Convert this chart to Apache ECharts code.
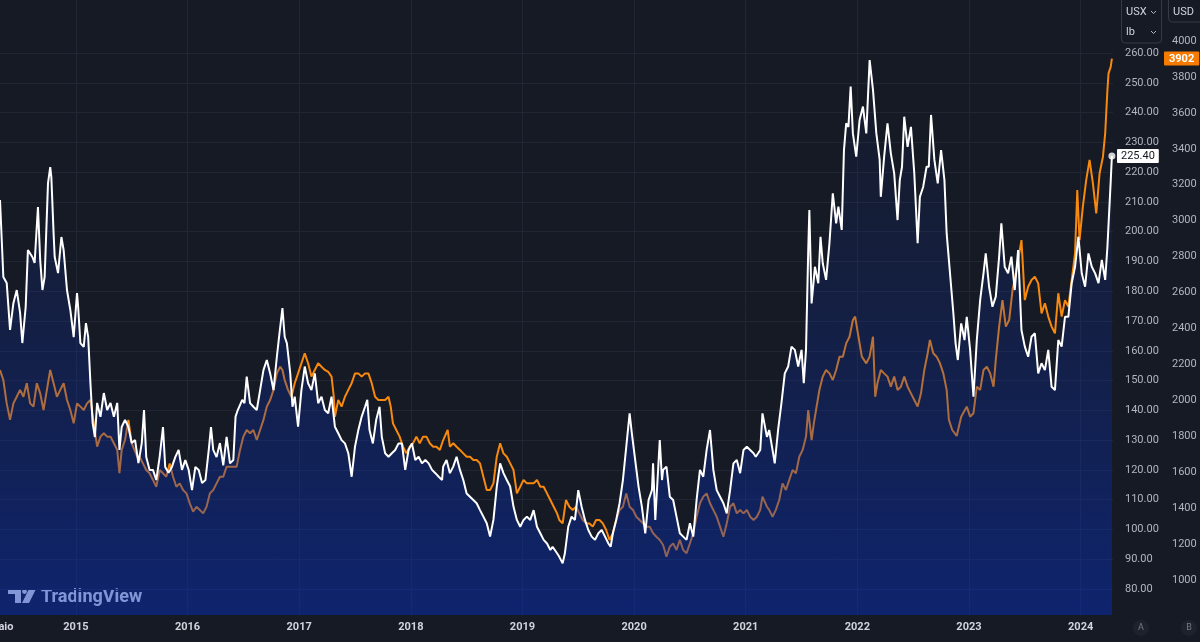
<!DOCTYPE html>
<html>
<head>
<meta charset="utf-8">
<script src="https://cdn.jsdelivr.net/npm/echarts@6/dist/echarts.min.js"></script>
<style>
    html, body { margin: 0; padding: 0; background: #161a25; }
    #chart { width: 1200px; height: 642px; }
</style>
</head>
<body>
<div id="chart"></div>
<script>
// decimal years / price in US cents per lb (white, left price scale)
const whiteDates = [
    2014.32, 2014.35, 2014.38, 2014.41, 2014.44, 2014.47, 2014.50, 2014.52, 2014.55, 2014.57, 2014.61, 2014.63, 2014.66, 2014.68, 2014.70, 2014.72,
    2014.75, 2014.77, 2014.78, 2014.80, 2014.81, 2014.84, 2014.87, 2014.89, 2014.92, 2014.95, 2014.98, 2015.01, 2015.02, 2015.04, 2015.07, 2015.09,
    2015.11, 2015.13, 2015.15, 2015.17, 2015.19, 2015.22, 2015.25, 2015.28, 2015.31, 2015.34, 2015.37, 2015.39, 2015.41, 2015.44, 2015.47, 2015.50,
    2015.53, 2015.56, 2015.59, 2015.61, 2015.63, 2015.66, 2015.69, 2015.72, 2015.75, 2015.78, 2015.80, 2015.83, 2015.86, 2015.89, 2015.92, 2015.95,
    2015.98, 2016.01, 2016.04, 2016.07, 2016.10, 2016.13, 2016.16, 2016.19, 2016.21, 2016.23, 2016.26, 2016.29, 2016.32, 2016.35, 2016.38, 2016.41,
    2016.43, 2016.45, 2016.49, 2016.51, 2016.53, 2016.56, 2016.59, 2016.62, 2016.65, 2016.68, 2016.71, 2016.74, 2016.77, 2016.80, 2016.82, 2016.85,
    2016.87, 2016.89, 2016.92, 2016.94, 2016.96, 2016.99, 2017.02, 2017.05, 2017.08, 2017.11, 2017.14, 2017.17, 2017.20, 2017.23, 2017.26, 2017.29,
    2017.32, 2017.35, 2017.38, 2017.41, 2017.44, 2017.47, 2017.50, 2017.53, 2017.56, 2017.59, 2017.61, 2017.63, 2017.66, 2017.69, 2017.72, 2017.74,
    2017.77, 2017.80, 2017.83, 2017.86, 2017.89, 2017.92, 2017.95, 2017.98, 2018.01, 2018.04, 2018.07, 2018.10, 2018.13, 2018.16, 2018.19, 2018.22,
    2018.25, 2018.28, 2018.29, 2018.32, 2018.35, 2018.38, 2018.41, 2018.44, 2018.47, 2018.50, 2018.53, 2018.56, 2018.59, 2018.62, 2018.65, 2018.68,
    2018.71, 2018.74, 2018.77, 2018.80, 2018.83, 2018.86, 2018.89, 2018.92, 2018.95, 2018.98, 2019.01, 2019.04, 2019.07, 2019.10, 2019.13, 2019.16,
    2019.19, 2019.22, 2019.25, 2019.27, 2019.31, 2019.33, 2019.36, 2019.38, 2019.41, 2019.44, 2019.47, 2019.50, 2019.53, 2019.56, 2019.59, 2019.62,
    2019.65, 2019.68, 2019.71, 2019.74, 2019.77, 2019.79, 2019.81, 2019.84, 2019.87, 2019.90, 2019.93, 2019.96, 2019.98, 2020.01, 2020.04, 2020.07,
    2020.10, 2020.13, 2020.16, 2020.17, 2020.19, 2020.21, 2020.23, 2020.25, 2020.26, 2020.29, 2020.32, 2020.35, 2020.38, 2020.41, 2020.44, 2020.47,
    2020.50, 2020.53, 2020.56, 2020.59, 2020.62, 2020.65, 2020.68, 2020.71, 2020.74, 2020.77, 2020.80, 2020.83, 2020.86, 2020.89, 2020.92, 2020.95,
    2020.98, 2021.01, 2021.04, 2021.07, 2021.09, 2021.13, 2021.15, 2021.19, 2021.21, 2021.24, 2021.26, 2021.29, 2021.32, 2021.35, 2021.38, 2021.41,
    2021.44, 2021.47, 2021.50, 2021.52, 2021.54, 2021.56, 2021.57, 2021.59, 2021.62, 2021.65, 2021.67, 2021.69, 2021.72, 2021.75, 2021.78, 2021.81,
    2021.83, 2021.86, 2021.88, 2021.90, 2021.92, 2021.94, 2021.96, 2021.99, 2022.02, 2022.05, 2022.08, 2022.11, 2022.14, 2022.17, 2022.20, 2022.21,
    2022.24, 2022.27, 2022.30, 2022.33, 2022.36, 2022.38, 2022.40, 2022.42, 2022.45, 2022.48, 2022.51, 2022.54, 2022.56, 2022.59, 2022.62, 2022.64,
    2022.66, 2022.69, 2022.72, 2022.75, 2022.78, 2022.80, 2022.83, 2022.86, 2022.88, 2022.90, 2022.93, 2022.96, 2022.98, 2023.01, 2023.04, 2023.07,
    2023.10, 2023.13, 2023.15, 2023.18, 2023.21, 2023.24, 2023.27, 2023.29, 2023.32, 2023.35, 2023.38, 2023.41, 2023.44, 2023.47, 2023.50, 2023.53,
    2023.56, 2023.59, 2023.62, 2023.65, 2023.68, 2023.71, 2023.74, 2023.77, 2023.80, 2023.83, 2023.86, 2023.89, 2023.92, 2023.95, 2023.98, 2024.01,
    2024.04, 2024.07, 2024.10, 2024.13, 2024.16, 2024.19, 2024.22, 2024.24, 2024.27, 2024.28
];
const whiteValues = [
    210.6, 184.8, 182.8, 167.0, 176.0, 180.4, 172.7, 162.6, 174.7, 193.8, 191.5, 189.5, 208.3, 190.5, 180.4, 184.8,
    216.3, 221.7, 218.3, 199.5, 191.5, 186.1, 198.2, 193.8, 180.4, 173.7, 164.6, 179.4, 174.7, 162.6, 161.3, 169.3,
    164.6, 149.2, 135.7, 131.0, 142.5, 137.8, 145.8, 140.1, 142.5, 137.8, 142.5, 126.7, 134.4, 136.8, 134.4, 129.0,
    130.0, 122.3, 129.0, 140.1, 124.3, 120.0, 120.0, 116.6, 124.3, 134.4, 121.0, 119.0, 121.0, 124.3, 126.7, 120.0,
    123.3, 120.0, 113.2, 121.0, 120.0, 115.6, 116.6, 126.7, 134.4, 126.7, 124.3, 129.0, 121.5, 131.1, 122.2, 123.3,
    137.9, 140.1, 143.5, 142.4, 151.3, 142.4, 141.2, 140.1, 146.8, 153.5, 156.9, 152.4, 146.8, 158.0, 164.7, 174.3,
    164.7, 162.5, 152.4, 141.2, 144.6, 134.5, 146.8, 154.7, 149.1, 146.8, 152.4, 142.4, 144.6, 140.1, 139.0, 144.6,
    134.5, 132.3, 130.0, 128.9, 125.6, 117.7, 127.8, 133.4, 137.9, 141.2, 143.5, 133.4, 128.9, 136.8, 141.2, 131.1,
    125.6, 124.4, 125.6, 126.7, 128.9, 128.9, 120.0, 126.7, 128.9, 123.3, 124.4, 122.2, 123.3, 122.2, 120.0, 118.9,
    117.7, 116.6, 121.1, 123.3, 118.9, 121.1, 124.4, 120.0, 116.6, 112.1, 111.0, 109.9, 108.8, 106.5, 104.3, 102.1,
    97.6, 103.2, 114.4, 122.2, 118.9, 116.6, 114.4, 107.6, 103.2, 100.9, 103.2, 104.3, 103.2, 106.5, 100.9, 98.7,
    96.5, 95.3, 93.1, 94.2, 92.0, 90.8, 88.6, 92.0, 100.9, 104.3, 103.2, 113.2, 107.6, 103.2, 99.8, 97.6,
    96.5, 98.7, 99.8, 97.6, 95.3, 94.2, 98.7, 103.2, 108.8, 116.6, 127.8, 139.0, 132.3, 123.3, 114.4, 107.6,
    98.7, 109.9, 113.2, 122.2, 103.2, 116.6, 130.0, 116.6, 120.0, 121.1, 111.0, 109.9, 104.3, 98.7, 97.6, 96.5,
    102.1, 97.6, 109.9, 120.0, 117.7, 126.7, 133.4, 120.0, 113.2, 111.0, 108.8, 105.4, 113.2, 122.2, 123.3, 118.9,
    126.7, 127.8, 126.7, 125.6, 124.4, 126.7, 139.0, 131.1, 133.4, 126.7, 122.2, 133.4, 142.4, 152.4, 154.7, 161.4,
    160.3, 154.7, 160.3, 149.1, 160.3, 193.8, 207.3, 175.9, 188.2, 182.7, 198.3, 189.4, 183.8, 196.1, 212.9, 202.8,
    208.4, 200.6, 227.4, 236.4, 235.2, 248.7, 233.0, 225.2, 237.5, 242.0, 233.0, 257.6, 247.6, 233.0, 224.1, 211.7,
    225.2, 236.4, 226.3, 219.6, 203.9, 217.3, 221.8, 238.6, 228.5, 235.2, 219.6, 196.1, 211.7, 215.1, 221.8, 221.8,
    239.2, 224.1, 216.2, 227.4, 217.3, 199.4, 186.0, 172.6, 162.5, 156.9, 169.2, 163.6, 171.4, 160.3, 144.6, 163.6,
    177.0, 186.0, 192.7, 181.5, 174.8, 178.2, 191.6, 202.8, 188.2, 186.0, 191.6, 180.4, 193.8, 167.0, 161.4, 158.0,
    164.7, 165.9, 152.4, 155.8, 153.5, 160.3, 147.9, 146.8, 163.6, 161.4, 171.4, 171.4, 182.7, 188.2, 198.3, 186.0,
    181.5, 192.7, 188.2, 186.0, 182.7, 190.5, 183.8, 194.9, 217.3, 225.4
];

// decimal years / price in USD per tonne (orange, right price scale)
const orangeDates = [
    2014.32, 2014.35, 2014.38, 2014.41, 2014.44, 2014.47, 2014.50, 2014.53, 2014.56, 2014.59, 2014.62, 2014.65, 2014.68, 2014.71, 2014.74, 2014.77,
    2014.80, 2014.83, 2014.86, 2014.89, 2014.92, 2014.95, 2014.98, 2015.01, 2015.04, 2015.07, 2015.10, 2015.13, 2015.16, 2015.19, 2015.22, 2015.25,
    2015.28, 2015.31, 2015.34, 2015.37, 2015.39, 2015.41, 2015.44, 2015.47, 2015.50, 2015.55, 2015.57, 2015.60, 2015.63, 2015.66, 2015.69, 2015.72,
    2015.75, 2015.78, 2015.81, 2015.84, 2015.87, 2015.90, 2015.93, 2015.96, 2015.99, 2016.02, 2016.05, 2016.08, 2016.11, 2016.14, 2016.17, 2016.20,
    2016.23, 2016.26, 2016.29, 2016.32, 2016.35, 2016.41, 2016.44, 2016.47, 2016.50, 2016.53, 2016.56, 2016.59, 2016.62, 2016.65, 2016.68, 2016.71,
    2016.74, 2016.77, 2016.80, 2016.83, 2016.85, 2016.87, 2016.90, 2016.93, 2016.96, 2016.99, 2017.02, 2017.05, 2017.08, 2017.11, 2017.14, 2017.17,
    2017.20, 2017.23, 2017.26, 2017.29, 2017.31, 2017.32, 2017.35, 2017.38, 2017.41, 2017.44, 2017.47, 2017.50, 2017.53, 2017.56, 2017.59, 2017.62,
    2017.65, 2017.68, 2017.71, 2017.74, 2017.77, 2017.80, 2017.82, 2017.84, 2017.87, 2017.90, 2017.93, 2017.96, 2017.99, 2018.02, 2018.05, 2018.08,
    2018.11, 2018.14, 2018.17, 2018.20, 2018.23, 2018.26, 2018.29, 2018.33, 2018.35, 2018.38, 2018.41, 2018.44, 2018.47, 2018.50, 2018.53, 2018.56,
    2018.59, 2018.62, 2018.65, 2018.68, 2018.71, 2018.74, 2018.77, 2018.80, 2018.83, 2018.86, 2018.89, 2018.92, 2018.95, 2018.98, 2019.01, 2019.04,
    2019.07, 2019.10, 2019.13, 2019.16, 2019.19, 2019.22, 2019.25, 2019.28, 2019.31, 2019.33, 2019.36, 2019.39, 2019.42, 2019.45, 2019.48, 2019.51,
    2019.54, 2019.57, 2019.60, 2019.63, 2019.66, 2019.69, 2019.72, 2019.75, 2019.78, 2019.81, 2019.84, 2019.87, 2019.90, 2019.93, 2019.96, 2019.99,
    2020.02, 2020.05, 2020.08, 2020.11, 2020.14, 2020.17, 2020.20, 2020.23, 2020.26, 2020.29, 2020.32, 2020.35, 2020.38, 2020.41, 2020.44, 2020.47,
    2020.50, 2020.53, 2020.56, 2020.59, 2020.62, 2020.65, 2020.68, 2020.71, 2020.74, 2020.77, 2020.80, 2020.83, 2020.86, 2020.89, 2020.92, 2020.95,
    2020.98, 2021.01, 2021.04, 2021.07, 2021.10, 2021.13, 2021.15, 2021.19, 2021.21, 2021.24, 2021.27, 2021.30, 2021.33, 2021.36, 2021.39, 2021.42,
    2021.45, 2021.48, 2021.51, 2021.54, 2021.56, 2021.59, 2021.61, 2021.63, 2021.66, 2021.69, 2021.72, 2021.75, 2021.78, 2021.81, 2021.84, 2021.87,
    2021.90, 2021.93, 2021.96, 2021.98, 2022.01, 2022.04, 2022.08, 2022.11, 2022.14, 2022.16, 2022.18, 2022.21, 2022.24, 2022.27, 2022.30, 2022.33,
    2022.36, 2022.39, 2022.42, 2022.45, 2022.48, 2022.51, 2022.54, 2022.57, 2022.60, 2022.63, 2022.65, 2022.68, 2022.71, 2022.74, 2022.77, 2022.80,
    2022.82, 2022.85, 2022.89, 2022.93, 2022.98, 2023.01, 2023.04, 2023.07, 2023.10, 2023.13, 2023.16, 2023.19, 2023.22, 2023.24, 2023.27, 2023.30,
    2023.33, 2023.36, 2023.39, 2023.42, 2023.45, 2023.47, 2023.50, 2023.53, 2023.56, 2023.59, 2023.62, 2023.65, 2023.68, 2023.71, 2023.74, 2023.77,
    2023.80, 2023.83, 2023.86, 2023.89, 2023.92, 2023.95, 2023.97, 2023.99, 2024.02, 2024.05, 2024.08, 2024.11, 2024.14, 2024.17, 2024.20, 2024.22,
    2024.24, 2024.25, 2024.27, 2024.28
];
const orangeValues = [
    2169, 2113, 1983, 1891, 1983, 2020, 2058, 2020, 2095, 1983, 1965, 2095, 2039, 1946, 2058, 2169,
    2095, 2020, 2058, 2095, 2002, 1946, 1872, 1983, 1965, 1946, 1983, 2002, 1872, 1742, 1798, 1817,
    1798, 1798, 1761, 1724, 1594, 1724, 1779, 1891, 1761, 1686, 1686, 1649, 1612, 1594, 1557, 1519,
    1612, 1594, 1575, 1649, 1575, 1519, 1538, 1501, 1482, 1427, 1380, 1408, 1390, 1371, 1408, 1482,
    1501, 1538, 1575, 1575, 1631, 1631, 1631, 1724, 1798, 1835, 1817, 1835, 1779, 1835, 1891, 1965,
    2002, 2058, 2150, 2187, 2169, 2113, 2058, 2020, 2095, 2150, 2206, 2262, 2206, 2132, 2169, 2206,
    2187, 2169, 2159, 2132, 2020, 1909, 2002, 1965, 2020, 2058, 2095, 2150, 2150, 2132, 2150, 2150,
    2095, 2020, 2002, 2002, 2002, 2020, 1965, 1872, 1835, 1798, 1742, 1705, 1742, 1761, 1798, 1761,
    1798, 1798, 1761, 1742, 1742, 1724, 1779, 1835, 1742, 1761, 1742, 1724, 1705, 1686, 1686, 1668,
    1668, 1649, 1575, 1501, 1501, 1538, 1686, 1761, 1705, 1686, 1649, 1612, 1482, 1519, 1557, 1538,
    1538, 1538, 1557, 1519, 1519, 1482, 1445, 1408, 1371, 1334, 1315, 1445, 1408, 1390, 1408, 1371,
    1334, 1315, 1315, 1297, 1334, 1334, 1315, 1278, 1223, 1260, 1334, 1390, 1408, 1482, 1408, 1390,
    1352, 1334, 1315, 1297, 1297, 1260, 1241, 1223, 1195, 1130, 1185, 1204, 1167, 1223, 1167, 1149,
    1204, 1260, 1352, 1427, 1464, 1482, 1427, 1390, 1352, 1297, 1241, 1315, 1408, 1427, 1371, 1390,
    1371, 1390, 1352, 1334, 1352, 1390, 1464, 1408, 1390, 1352, 1390, 1445, 1538, 1501, 1557, 1612,
    1594, 1686, 1724, 1798, 1946, 1779, 1872, 1946, 2058, 2132, 2169, 2150, 2113, 2169, 2243, 2243,
    2317, 2354, 2447, 2466, 2354, 2243, 2206, 2243, 2354, 2020, 2095, 2169, 2150, 2132, 2076, 2132,
    2058, 2076, 2132, 2076, 2039, 2002, 1965, 2039, 2169, 2262, 2336, 2262, 2243, 2206, 2150, 2058,
    1891, 1835, 1802, 1909, 1965, 1909, 1928, 2076, 2058, 2169, 2187, 2150, 2076, 2225, 2410, 2558,
    2410, 2447, 2614, 2707, 2818, 2892, 2558, 2632, 2670, 2688, 2651, 2484, 2540, 2466, 2410, 2373,
    2596, 2466, 2558, 2521, 2670, 2818, 3171, 2892, 3078, 3226, 3338, 3208, 3041, 3264, 3356, 3486,
    3727, 3820, 3857, 3902
];

const yearTicks = [2015, 2016, 2017, 2018, 2019, 2020, 2021, 2022, 2023, 2024];
const mayLabelAt = 2014.33; // "Maio" label, cut at the left edge
const usxTicks = [80, 90, 100, 110, 120, 130, 140, 150, 160, 170, 180, 190, 200, 210, 220, 230, 240, 250, 260];
const usdTicks = [1000, 1200, 1400, 1600, 1800, 2000, 2200, 2400, 2600, 2800, 3000, 3200, 3400, 3600, 3800, 4000];

const zip = (xs, ys) => xs.map((x, i) => [x, ys[i]]);
const whiteData = zip(whiteDates, whiteValues);
const orangeData = zip(orangeDates, orangeValues);
const lastWhite = whiteData[whiteData.length - 1];
const lastOrange = orangeData[orangeData.length - 1];

const FONT = "Roboto, 'Liberation Sans', sans-serif";
const GRID_COLOR = "#222634";

const chart = echarts.init(document.getElementById("chart"), null, { renderer: "canvas" });

chart.setOption({
    backgroundColor: "#161a25",
    animation: false,
    textStyle: { fontFamily: FONT },
    grid: { left: 0, right: 87, top: 0, bottom: 27, containLabel: false, outerBoundsMode: "none" },
    xAxis: {
        type: "value",
        min: 2014.32,
        max: 2024.29,
        axisLine: { show: false },
        axisTick: { show: false, customValues: yearTicks },
        splitLine: { show: true, lineStyle: { color: GRID_COLOR, width: 1 } },
        axisLabel: {
            customValues: [mayLabelAt].concat(yearTicks),
            formatter: v => (v < 2015 ? "Maio" : String(Math.round(v))),
            color: "#d1d4dc",
            fontSize: 11,
            fontWeight: "bold",
            margin: 7
        }
    },
    yAxis: [
        {
            type: "value",
            position: "right",
            min: 71.27,
            max: 277.8,
            axisLine: { show: false },
            axisTick: { show: false, customValues: usxTicks },
            splitLine: { show: true, lineStyle: { color: GRID_COLOR, width: 1 } },
            axisLabel: {
                customValues: usxTicks,
                formatter: v => v.toFixed(2),
                color: "#b2b5be",
                fontSize: 11,
                margin: 12
            },
            axisPointer: {
                show: true,
                value: lastWhite[1],
                status: "show",
                triggerTooltip: false,
                lineStyle: { opacity: 0 },
                label: {
                    show: true,
                    formatter: p => Number(p.value).toFixed(2),
                    backgroundColor: "#ffffff",
                    color: "#131722",
                    fontSize: 11,
                    padding: [2, 4, 1, 4],
                    borderRadius: 1,
                    margin: 4
                }
            }
        },
        {
            type: "value",
            position: "right",
            offset: 47,
            min: 805.2,
            max: 4228.2,
            axisLine: { show: false },
            axisTick: { show: false, customValues: usdTicks },
            splitLine: { show: false },
            axisLabel: {
                customValues: usdTicks,
                formatter: v => String(v),
                color: "#b2b5be",
                fontSize: 11,
                margin: 12
            },
            axisPointer: {
                show: true,
                value: lastOrange[1],
                status: "show",
                triggerTooltip: false,
                lineStyle: { opacity: 0 },
                label: {
                    show: true,
                    formatter: p => String(Math.round(p.value)),
                    backgroundColor: "#f57c00",
                    color: "#ffffff",
                    fontSize: 11,
                    fontWeight: "bold",
                    padding: [2, 5, 1, 5],
                    borderRadius: 1,
                    margin: 4
                }
            }
        }
    ],
    series: [
        {
            name: "USD",
            type: "line",
            yAxisIndex: 1,
            data: orangeData,
            showSymbol: false,
            lineStyle: { color: "#f7890f", width: 2 },
            z: 2
        },
        {
            name: "USX",
            type: "line",
            yAxisIndex: 0,
            data: whiteData,
            showSymbol: false,
            lineStyle: { color: "#ffffff", width: 2 },
            areaStyle: {
                color: new echarts.graphic.LinearGradient(0, 0, 0, 1, [
                    { offset: 0, color: "rgba(16, 48, 150, 0.02)" },
                    { offset: 1, color: "rgba(6, 46, 185, 0.7)" }
                ])
            },
            z: 3
        },
        {
            type: "scatter",
            yAxisIndex: 0,
            data: [lastWhite],
            symbolSize: 7,
            itemStyle: { color: "#ffffff" },
            z: 4
        }
    ],
    graphic: [
        // TradingView logo
        { type: "rect", shape: { x: 8, y: 589, width: 13, height: 5 }, style: { fill: "#f0f1f3" } },
        { type: "rect", shape: { x: 15, y: 589, width: 6, height: 14 }, style: { fill: "#f0f1f3" } },
        { type: "circle", shape: { cx: 24.5, cy: 591.5, r: 2.4 }, style: { fill: "#f0f1f3" } },
        { type: "polygon", shape: { points: [[29, 589], [36, 589], [29, 603], [22, 603]] }, style: { fill: "#f0f1f3" } },
        {
            type: "text", x: 41, y: 597,
            style: { text: "TradingView", fill: "#f0f1f3", font: "bold 18px " + FONT, verticalAlign: "middle" }
        },
        // unit selectors
        { type: "rect", shape: { x: 1121.5, y: -4, width: 40, height: 47, r: 4 }, style: { fill: "none", stroke: "#363a45", lineWidth: 1 } },
        { type: "text", x: 1126, y: 12, style: { text: "USX", fill: "#d1d4dc", font: "11px " + FONT, verticalAlign: "middle" } },
        { type: "polyline", shape: { points: [[1151, 11], [1153.5, 13.5], [1156, 11]] }, style: { stroke: "#b2b5be", lineWidth: 1, fill: "none" } },
        { type: "text", x: 1126, y: 32, style: { text: "lb", fill: "#d1d4dc", font: "11px " + FONT, verticalAlign: "middle" } },
        { type: "polyline", shape: { points: [[1151, 31], [1153.5, 33.5], [1156, 31]] }, style: { stroke: "#b2b5be", lineWidth: 1, fill: "none" } },
        { type: "rect", shape: { x: 1168.5, y: -4, width: 40, height: 26, r: 4 }, style: { fill: "none", stroke: "#363a45", lineWidth: 1 } },
        { type: "text", x: 1173, y: 12, style: { text: "USD", fill: "#d1d4dc", font: "11px " + FONT, verticalAlign: "middle" } },
        // scale mode buttons
        { type: "circle", shape: { cx: 1141, cy: 628, r: 8 }, style: { fill: "#1e222d" } },
        { type: "text", x: 1141, y: 628, style: { text: "A", fill: "#787b86", font: "9px " + FONT, align: "center", verticalAlign: "middle" } },
        { type: "circle", shape: { cx: 1189, cy: 628, r: 8 }, style: { fill: "#1e222d" } },
        { type: "text", x: 1189, y: 628, style: { text: "B", fill: "#787b86", font: "9px " + FONT, align: "center", verticalAlign: "middle" } }
    ]
});
</script>
</body>
</html>
